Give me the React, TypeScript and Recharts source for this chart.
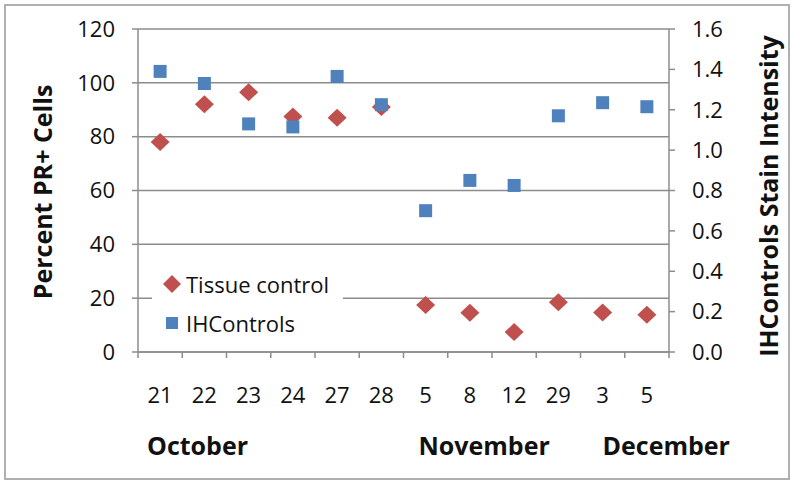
import { ComposedChart, Scatter, XAxis, YAxis, CartesianGrid, Legend } from 'recharts';

const days = ['21', '22', '23', '24', '27', '28', '5', '8', '12', '29', '3', '5'];
const monthOfDay = [
  'October', 'October', 'October', 'October', 'October', 'October',
  'November', 'November', 'November', 'November',
  'December', 'December',
];
const tissueControl = [78, 92, 96.5, 87.5, 87, 91, 17.5, 14.6, 7.4, 18.5, 14.7, 13.8];
const ihControls = [1.39, 1.33, 1.13, 1.115, 1.365, 1.225, 0.7, 0.85, 0.825, 1.17, 1.235, 1.215];
const leftTicks = [0, 20, 40, 60, 80, 100, 120];
const rightTicks = [0, 0.2, 0.4, 0.6, 0.8, 1.0, 1.2, 1.4, 1.6];

const data = days.map((d, i) => ({
  cat: String(i),
  day: d,
  tissue: tissueControl[i],
  ih: ihControls[i],
}));

// layout
const W = 800;
const H = 485;
const MARGIN = { top: 29, right: 51, bottom: 33, left: 58 };
const AXIS_W = 80;
const PLOT_W = W - MARGIN.left - MARGIN.right - 2 * AXIS_W;
const BAND = PLOT_W / days.length;
const MONTH_DX = [9, 15, 22];
const FONT = '"Open Sans", sans-serif';
const GRID = '#8c8c8c';
const RED = '#C0504D';
const BLUE = '#4F81BD';
const TICK_FS = 22;

const Diamond = ({ cx, cy }: any) => (
  <polygon
    points={`${cx},${cy - 9} ${cx + 9.5},${cy} ${cx},${cy + 9} ${cx - 9.5},${cy}`}
    fill={RED}
  />
);

const Square = ({ cx, cy }: any) => (
  <rect x={cx - 6.5} y={cy - 6.5} width={13} height={13} fill={BLUE} />
);

const DayTick = ({ x, y, index }: any) => {
  const left = x - BAND / 2;
  const isFirstOfMonth = index === 0 || monthOfDay[index] !== monthOfDay[index - 1];
  const monthIdx = Array.from(new Set(monthOfDay)).indexOf(monthOfDay[index]);
  return (
    <g>
      <line x1={left} y1={y} x2={left} y2={y + 6} stroke={GRID} strokeWidth={1.5} />
      {index === days.length - 1 && (
        <line x1={x + BAND / 2} y1={y} x2={x + BAND / 2} y2={y + 6} stroke={GRID} strokeWidth={1.5} />
      )}
      <text x={x} y={y + 51} textAnchor="middle" fontSize={TICK_FS} fontFamily={FONT} fill="#111">
        {days[index]}
      </text>
      {isFirstOfMonth && (
        <text
          x={left + MONTH_DX[monthIdx]}
          y={y + 103}
          textAnchor="start"
          fontSize={25}
          fontWeight="bold"
          fontFamily={FONT}
          fill="#111"
        >
          {monthOfDay[index]}
        </text>
      )}
    </g>
  );
};

const LegendBox = () => (
  <div style={{ fontFamily: FONT, fontSize: 22, color: '#111', paddingLeft: 10, paddingTop: 2 }}>
    <div style={{ display: 'flex', alignItems: 'center', height: 39 }}>
      <svg width={22} height={20}>
        <polygon points="10,1 19,10 10,19 1,10" fill={RED} />
      </svg>
      <span style={{ marginLeft: 2 }}>Tissue control</span>
    </div>
    <div style={{ display: 'flex', alignItems: 'center', height: 39 }}>
      <svg width={22} height={20}>
        <rect x={4} y={4} width={12} height={12} fill={BLUE} />
      </svg>
      <span style={{ marginLeft: 2 }}>IHControls</span>
    </div>
  </div>
);

const App = () => {
  return (
    <div style={{ position: 'absolute', left: 0, top: 0, width: W, height: H, background: '#fff' }}>
      <div
        style={{
          position: 'absolute',
          left: 4,
          top: 4,
          width: 782,
          height: 472,
          border: '2px solid #b0b0b0',
        }}
      />
      <ComposedChart width={W} height={H} data={data} margin={MARGIN}>
        <CartesianGrid yAxisId="left" horizontal vertical={false} stroke={GRID} strokeWidth={1.5} />
        <XAxis
          dataKey="cat"
          type="category"
          height={100}
          padding={{ left: BAND / 2, right: BAND / 2 }}
          tickSize={0}
          tickMargin={0}
          tickLine={false}
          axisLine={{ stroke: GRID, strokeWidth: 1.5 }}
          tick={<DayTick />}
          interval={0}
        />
        <YAxis
          yAxisId="left"
          orientation="left"
          width={AXIS_W}
          domain={[0, 120]}
          ticks={leftTicks}
          tickSize={6}
          tickMargin={17}
          axisLine={{ stroke: GRID, strokeWidth: 1.5 }}
          tickLine={{ stroke: GRID, strokeWidth: 1.5 }}
          tick={{ fontSize: TICK_FS, fill: '#111', fontFamily: FONT }}
          label={{
            content: () => (
              <text
                x={42}
                y={192}
                transform="rotate(-90 42 192)"
                textAnchor="middle"
                dominantBaseline="central"
                fontSize={25}
                fontWeight="bold"
                fontFamily={FONT}
                fill="#111"
              >
                Percent PR+ Cells
              </text>
            ),
          }}
        />
        <YAxis
          yAxisId="right"
          orientation="right"
          width={AXIS_W}
          domain={[0, 1.6]}
          ticks={rightTicks}
          tickSize={6}
          tickMargin={17}
          tickFormatter={(v: number) => v.toFixed(1)}
          axisLine={{ stroke: GRID, strokeWidth: 1.5 }}
          tickLine={{ stroke: GRID, strokeWidth: 1.5 }}
          tick={{ fontSize: TICK_FS, fill: '#111', fontFamily: FONT }}
          label={{
            content: () => (
              <text
                x={768}
                y={196}
                transform="rotate(-90 768 196)"
                textAnchor="middle"
                dominantBaseline="central"
                fontSize={25}
                fontWeight="bold"
                fontFamily={FONT}
                fill="#111"
              >
                IHControls Stain Intensity
              </text>
            ),
          }}
        />
        <Legend
          layout="horizontal"
          verticalAlign="middle"
          align="center"
          content={<LegendBox />}
          wrapperStyle={{ left: 152, top: 262, width: 191, height: 80, background: '#fff' }}
        />
        <Scatter
          name="Tissue control"
          yAxisId="left"
          dataKey="tissue"
          fill={RED}
          shape={<Diamond />}
          isAnimationActive={false}
        />
        <Scatter
          name="IHControls"
          yAxisId="right"
          dataKey="ih"
          fill={BLUE}
          shape={<Square />}
          isAnimationActive={false}
        />
      </ComposedChart>
    </div>
  );
};

export default App;
